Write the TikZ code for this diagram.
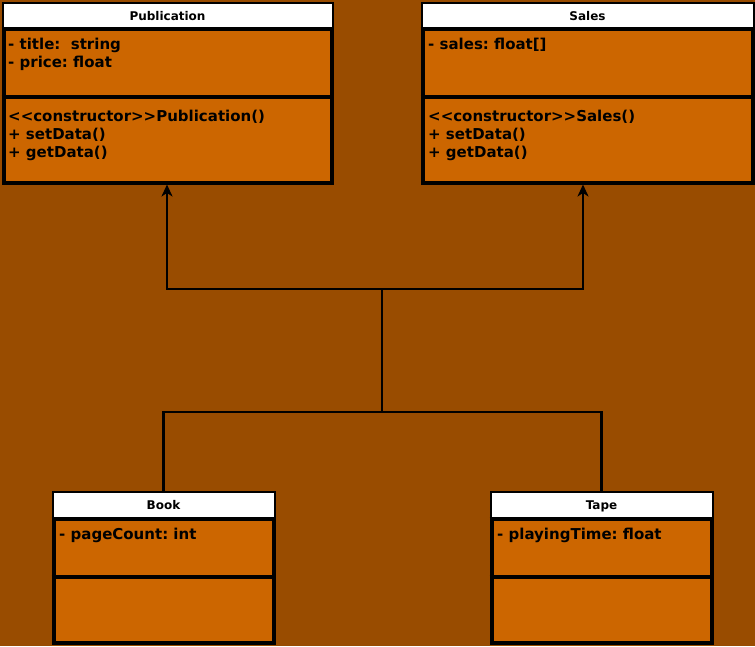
\documentclass[tikz,border=0pt]{standalone}
\usepackage{fontspec}
\setmainfont{DejaVu Sans}[Ligatures=TeXOff]
\usetikzlibrary{arrows.meta,calc}
\definecolor{bgbrown}{HTML}{994C00}
\definecolor{boxorange}{HTML}{CC6600}
\tikzset{
  umlbox/.style={draw=black, line width=4pt, fill=boxorange, inner sep=0pt, outer sep=2pt},
  hdrfill/.style={fill=white},
  sepline/.style={draw=black, line width=4pt},
  hdrtext/.style={font=\fontsize{12}{14}\selectfont\bfseries, inner sep=0pt, anchor=base},
  bodytext/.style={font=\fontsize{15}{18}\selectfont\bfseries, inner sep=0pt, anchor=base west},
  conn/.style={draw=black, line width=2.6pt},
  arr/.style={-{Stealth[length=12pt,width=11pt,inset=3.5pt]}}
}
\frenchspacing
\begin{document}
\begin{tikzpicture}[x=1pt,y=-1pt]
\useasboundingbox (0,0) rectangle (755,646);
\fill[bgbrown] (0,0) rectangle (755,646);

% Publication
\node[umlbox, minimum width=328pt, minimum height=179pt] (pub) at (167.5,93) {};
\fill[hdrfill] ([xshift=2pt,yshift=-2pt]pub.north west) rectangle ([xshift=-2pt,yshift=-27pt]pub.north east);
\draw[sepline] ([yshift=-27pt]pub.north west) -- ([yshift=-27pt]pub.north east);
\draw[sepline] ([yshift=-95pt]pub.north west) -- ([yshift=-95pt]pub.north east);
\node[hdrtext] (pubname) at (167.5,20) {Publication};
\node[bodytext] (pubattr1) at (8,49) {- title:\ \ string};
\node[bodytext] (pubattr2) at (8,67) {- price: float};
\node[bodytext] (pubop1) at (8,121) {<<constructor>>Publication()};
\node[bodytext] (pubop2) at (8,139) {+ setData()};
\node[bodytext] (pubop3) at (8,157) {+ getData()};

% Sales
\node[umlbox, minimum width=330pt, minimum height=179pt] (sales) at (587.5,93) {};
\fill[hdrfill] ([xshift=2pt,yshift=-2pt]sales.north west) rectangle ([xshift=-2pt,yshift=-27pt]sales.north east);
\draw[sepline] ([yshift=-27pt]sales.north west) -- ([yshift=-27pt]sales.north east);
\draw[sepline] ([yshift=-95pt]sales.north west) -- ([yshift=-95pt]sales.north east);
\node[hdrtext] (salesname) at (587.5,20) {Sales};
\node[bodytext] (salesattr1) at (428,49) {- sales: float[]};
\node[bodytext] (salesop1) at (428,121) {<<constructor>>Sales()};
\node[bodytext] (salesop2) at (428,139) {+ setData()};
\node[bodytext] (salesop3) at (428,157) {+ getData()};

% Book
\node[umlbox, minimum width=220pt, minimum height=150pt] (book) at (163.5,567.5) {};
\fill[hdrfill] ([xshift=2pt,yshift=-2pt]book.north west) rectangle ([xshift=-2pt,yshift=-28pt]book.north east);
\draw[sepline] ([yshift=-28pt]book.north west) -- ([yshift=-28pt]book.north east);
\draw[sepline] ([yshift=-86pt]book.north west) -- ([yshift=-86pt]book.north east);
\node[hdrtext] (bookname) at (163.5,509) {Book};
\node[bodytext] (bookattr1) at (59,539) {- pageCount: int};

% Tape
\node[umlbox, minimum width=220pt, minimum height=150pt] (tape) at (601.5,567.5) {};
\fill[hdrfill] ([xshift=2pt,yshift=-2pt]tape.north west) rectangle ([xshift=-2pt,yshift=-28pt]tape.north east);
\draw[sepline] ([yshift=-28pt]tape.north west) -- ([yshift=-28pt]tape.north east);
\draw[sepline] ([yshift=-86pt]tape.north west) -- ([yshift=-86pt]tape.north east);
\node[hdrtext] (tapename) at (601.5,509) {Tape};
\node[bodytext] (tapeattr1) at (497,539) {- playingTime: float};

% Connectors
\coordinate (jb) at (382,412);
\coordinate (jt) at (382,289);
\coordinate (pubin) at ([xshift=-0.5pt]pub.south);
\coordinate (salesin) at ([xshift=-4.5pt]sales.south);
\draw[conn, arr] (book.north) |- (jb) -- (jt) -| (pubin);
\draw[conn, arr] (tape.north) |- (jb) -- (jt) -| (salesin);
\end{tikzpicture}
\end{document}
